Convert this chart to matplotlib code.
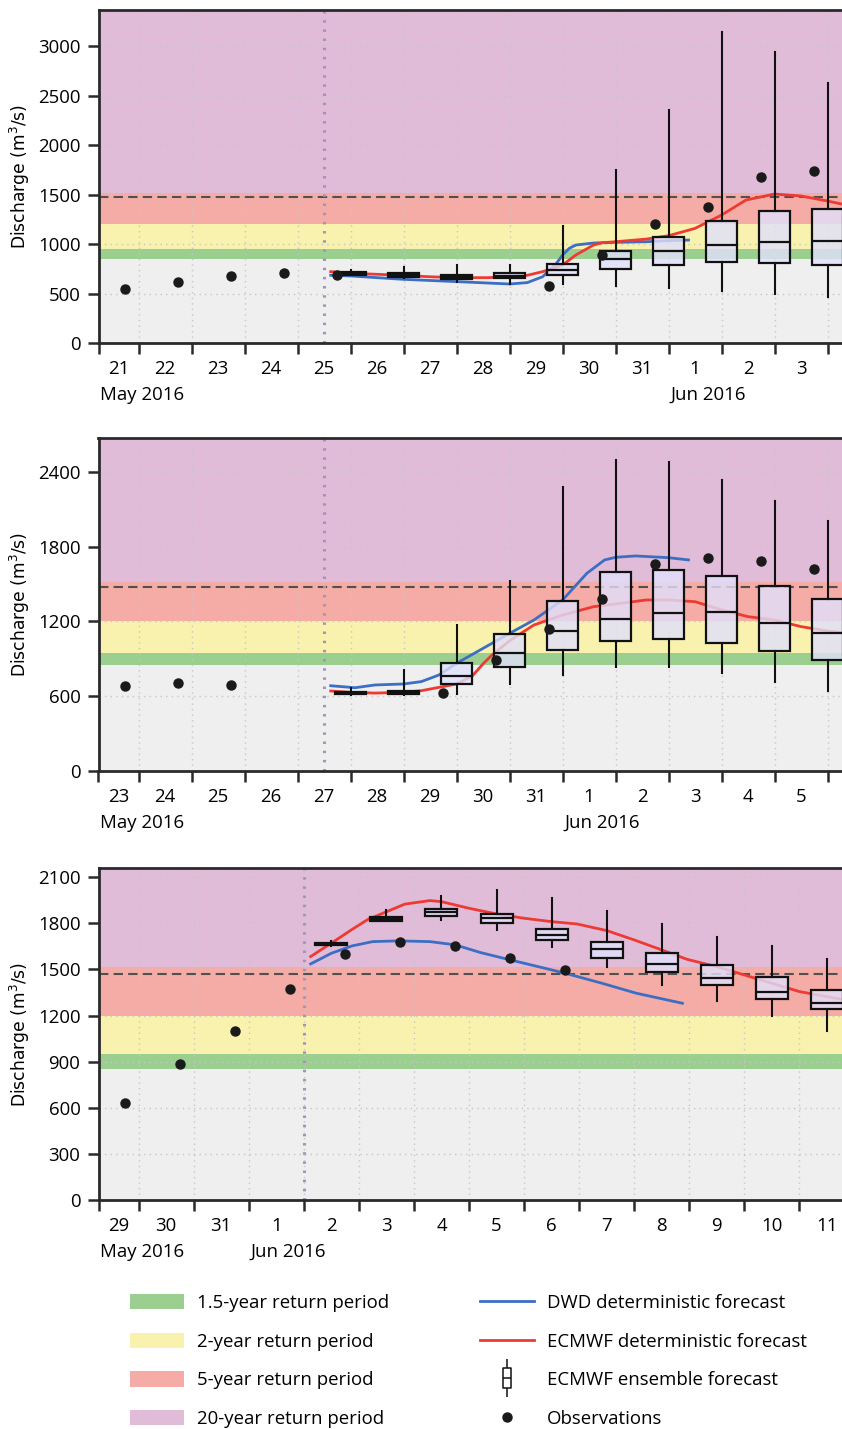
import numpy as np
import matplotlib
matplotlib.use('Agg')
import matplotlib.pyplot as plt
import matplotlib.dates as mdates
from matplotlib.patches import Patch
from matplotlib.lines import Line2D
from matplotlib.path import Path
from matplotlib.legend_handler import HandlerTuple
from matplotlib.ticker import FixedLocator, FixedFormatter

plt.rcParams['font.family'] = ['Open Sans', 'DejaVu Sans']

# Return period thresholds and alert level (m3/s)
rp_levels = [850, 950, 1200, 1515]
alert_level = 1472

# --- Forecast of 25 May 2016 12 UTC ---
p1_base = '2016-05-25T12:00'
p1_obs_days = ['2016-05-21', '2016-05-22', '2016-05-23', '2016-05-24', '2016-05-25',
               '2016-05-29', '2016-05-30', '2016-05-31', '2016-06-01', '2016-06-02', '2016-06-03']
p1_obs = [549, 620, 680, 707, 686, 579, 886, 1205, 1377, 1680, 1741]
p1_ecmwf_h = [3, 12, 36, 47, 60, 74, 84, 92, 99, 108, 114, 122, 126, 132, 146, 156, 168,
              180, 191, 204, 216, 228, 235, 240]
p1_ecmwf = [721, 704, 684, 670, 660, 660, 670, 684, 721, 788, 889, 990, 1013, 1023, 1050,
            1084, 1158, 1293, 1444, 1505, 1485, 1434, 1401, 1385]
p1_dwd_h = [3, 12, 36, 60, 74, 84, 92, 99, 102, 105, 108, 111, 114, 122, 132, 146, 156, 165]
p1_dwd = [684, 677, 643, 620, 606, 596, 610, 670, 737, 798, 889, 956, 990, 1010, 1017,
          1023, 1034, 1040]
p1_ens_h = [12, 36, 60, 84, 108, 132, 156, 180, 204, 228]
p1_ens_lo = [683, 660, 620, 596, 593, 576, 556, 522, 495, 468]
p1_ens_q1 = [690, 670, 650, 657, 684, 751, 791, 818, 805, 788]
p1_ens_med = [705, 687, 670, 677, 737, 845, 933, 986, 1020, 1027]
p1_ens_q3 = [717, 704, 690, 704, 798, 926, 1074, 1236, 1337, 1357]
p1_ens_hi = [737, 765, 788, 791, 1182, 1747, 2353, 3141, 2936, 2630]

# --- Forecast of 27 May 2016 12 UTC ---
p2_base = '2016-05-27T12:00'
p2_obs_days = ['2016-05-23', '2016-05-24', '2016-05-25', '2016-05-29', '2016-05-30',
               '2016-05-31', '2016-06-01', '2016-06-02', '2016-06-03', '2016-06-04', '2016-06-05']
p2_obs = [682, 703, 687, 626, 890, 1142, 1377, 1663, 1711, 1685, 1620]
p2_ecmwf_h = [3, 12, 23, 36, 44, 52, 60, 67, 72, 76, 84, 95, 108, 122, 132, 146, 156, 168,
              180, 192, 204, 216, 228, 235, 240]
p2_ecmwf = [642, 631, 625, 631, 644, 671, 698, 760, 860, 930, 1045, 1171, 1251, 1318, 1340,
            1372, 1372, 1358, 1292, 1238, 1211, 1158, 1123, 1110, 1100]
p2_dwd_h = [3, 14, 23, 36, 44, 52, 60, 72, 84, 95, 108, 119, 127, 132, 141, 156, 165]
p2_dwd = [684, 668, 690, 698, 717, 770, 864, 984, 1104, 1211, 1372, 1586, 1693, 1714, 1725,
          1711, 1693]
p2_ens_h = [12, 36, 60, 84, 108, 132, 156, 180, 204, 228]
p2_ens_lo = [611, 612, 618, 698, 770, 832, 832, 784, 717, 644]
p2_ens_q1 = [618, 618, 698, 837, 973, 1045, 1059, 1029, 965, 890]
p2_ens_med = [627, 630, 765, 949, 1123, 1222, 1270, 1275, 1187, 1110]
p2_ens_q3 = [636, 643, 869, 1099, 1366, 1599, 1610, 1564, 1487, 1382]
p2_ens_hi = [663, 810, 1171, 1524, 2281, 2495, 2481, 2334, 2168, 2008]

# --- Forecast of 2 June 2016 00 UTC ---
p3_base = '2016-06-02T00:00'
p3_obs_days = ['2016-05-29', '2016-05-30', '2016-05-31', '2016-06-01', '2016-06-02',
               '2016-06-03', '2016-06-04', '2016-06-05', '2016-06-06']
p3_obs = [629, 883, 1102, 1372, 1601, 1677, 1653, 1575, 1499]
p3_ecmwf_h = [3, 12, 21, 28, 36, 44, 55, 60, 72, 84, 96, 108, 119, 132, 144, 156, 167, 180,
              192, 204, 216, 228, 240]
p3_ecmwf = [1584, 1671, 1760, 1826, 1875, 1925, 1948, 1941, 1898, 1861, 1833, 1811, 1796,
            1753, 1692, 1627, 1566, 1518, 1464, 1410, 1356, 1323, 1290]
p3_dwd_h = [3, 12, 21, 30, 41, 55, 66, 77, 90, 105, 114, 130, 145, 165]
p3_dwd = [1536, 1605, 1653, 1681, 1686, 1681, 1660, 1610, 1562, 1508, 1475, 1410, 1345, 1280]
p3_ens_h = [12, 36, 60, 84, 108, 132, 156, 180, 204, 228]
p3_ens_lo = [1653, 1814, 1822, 1757, 1645, 1518, 1399, 1297, 1200, 1102]
p3_ens_q1 = [1658, 1818, 1848, 1805, 1690, 1577, 1482, 1397, 1308, 1243]
p3_ens_med = [1666, 1831, 1872, 1833, 1727, 1632, 1538, 1445, 1355, 1284]
p3_ens_q3 = [1675, 1844, 1894, 1861, 1764, 1681, 1605, 1527, 1449, 1367]
p3_ens_hi = [1684, 1887, 1978, 2017, 1963, 1883, 1796, 1714, 1653, 1568]

band_colors = ['#efefef', '#9acf8f', '#f8f2ae', '#f6aca6', '#e1bcd9']
col_dwd = '#3c6ec4'
col_ecmwf = '#ee3a32'

W, H = 842, 1429
fig = plt.figure(figsize=(W / 100, H / 100), dpi=100)


def hours_to_num(base, hours):
    t = np.datetime64(base) + np.array(hours) * np.timedelta64(1, 'h')
    return mdates.date2num(t)


def draw_panel(top_px, bottom_px, left_date, px_day, ymax, yticks, base,
               obs_days, obs, ec_h, ec, dwd_h, dwd, ens_h, lo, q1, med, q3, hi):
    left_px, right_px = 98.5, 900
    ax = fig.add_axes([left_px / W, 1 - bottom_px / H, (right_px - left_px) / W,
                       (bottom_px - top_px) / H])
    x0 = mdates.date2num(np.datetime64(left_date))
    x1 = x0 + (right_px - left_px) / px_day
    ax.set_xlim(x0, x1)
    ax.set_ylim(0, ymax)

    # return period bands
    edges = [0] + rp_levels + [ymax]
    for i, c in enumerate(band_colors):
        ax.axhspan(edges[i], edges[i + 1], color=c, lw=0, zorder=0)
    ax.axhline(alert_level, color='#505050', lw=1.5, ls=(0, (4.5, 2.5)), zorder=1.5)
    ax.axvline(mdates.date2num(np.datetime64(base)), color='#a393b8', lw=2.2,
               ls=(0, (0.8, 2.2)), zorder=1.5)

    ax.plot(hours_to_num(base, dwd_h), dwd, color=col_dwd, lw=2, zorder=2)
    ax.plot(hours_to_num(base, ec_h), ec, color=col_ecmwf, lw=2, zorder=2)

    stats = [dict(whislo=a, q1=b, med=c, q3=d, whishi=e, fliers=[])
             for a, b, c, d, e in zip(lo, q1, med, q3, hi)]
    bp = ax.bxp(stats, positions=hours_to_num(base, ens_h), widths=0.58,
                patch_artist=True, showcaps=False, showfliers=False, manage_ticks=False,
                boxprops=dict(facecolor=(0.88, 0.88, 0.99, 0.8), edgecolor='#111111', lw=1.6),
                medianprops=dict(color='#111111', lw=1.6),
                whiskerprops=dict(color='#111111', lw=1.5))
    for k in bp:
        for a in bp[k]:
            a.set_zorder(3)

    obs_t = mdates.date2num(np.array(obs_days, dtype='datetime64[m]') + np.timedelta64(18, 'h'))
    ax.plot(obs_t, obs, 'o', color='#1a1a1a', ms=6.5, zorder=4)

    # axes styling
    ax.set_axisbelow(True)
    ax.set_yticks(yticks)
    ax.grid(True, which='major', color='#c6c6c6', ls=(0, (1, 3)), lw=1)
    for s in ['left', 'bottom', 'top']:
        ax.spines[s].set_color('#2a2a2a')
        ax.spines[s].set_linewidth(2)
    ax.spines['right'].set_visible(False)

    first_day = np.floor(x0)
    midnights = np.arange(first_day + 1, x1, 1.0)
    ax.xaxis.set_major_locator(FixedLocator([x0] + list(midnights)))
    ax.xaxis.set_major_formatter(FixedFormatter([''] * (len(midnights) + 1)))
    # day numbers centred on the visible part of each day (only those inside the figure)
    centres, labels = [], []
    for d in np.arange(first_day, x1, 1.0):
        a, b = max(d, x0), min(d + 1, x1)
        c = (a + b) / 2
        if left_px + (c - x0) * px_day < W - 12:
            centres.append(c)
            labels.append(str(mdates.num2date(d).day))
    ax.xaxis.set_minor_locator(FixedLocator(centres))
    ax.xaxis.set_minor_formatter(FixedFormatter(labels))
    ax.tick_params(axis='x', which='major', length=8, width=1.8, color='#2a2a2a')
    ax.tick_params(axis='x', which='minor', length=0, pad=12.5, labelsize=13.4)
    ax.tick_params(axis='y', length=8, width=1.8, color='#2a2a2a', labelsize=13.4, pad=5)
    ax.grid(False, which='minor')

    # month labels under the first visible day of each month
    for d in [x0] + list(midnights):
        dt = mdates.num2date(d)
        if d == x0 or dt.day == 1:
            ax.annotate(dt.strftime('%b %Y'), xy=(d, 0), xycoords=('data', 'axes fraction'),
                        xytext=(1, -37.5), textcoords='offset points', ha='left', va='center',
                        fontsize=13.4)

    ax.set_ylabel('Discharge (m$^3$/s)', family='DejaVu Sans', fontsize=12.3, labelpad=4.5)
    return ax


draw_panel(10, 343, '2016-05-21T05:50', 53.0, 3364, range(0, 3001, 500), p1_base,
           p1_obs_days, p1_obs, p1_ecmwf_h, p1_ecmwf, p1_dwd_h, p1_dwd,
           p1_ens_h, p1_ens_lo, p1_ens_q1, p1_ens_med, p1_ens_q3, p1_ens_hi)
draw_panel(438, 771, '2016-05-23T05:50', 53.0, 2671, range(0, 2401, 600), p2_base,
           p2_obs_days, p2_obs, p2_ecmwf_h, p2_ecmwf, p2_dwd_h, p2_dwd,
           p2_ens_h, p2_ens_lo, p2_ens_q1, p2_ens_med, p2_ens_q3, p2_ens_hi)
draw_panel(868, 1200, '2016-05-29T06:32', 55.07, 2160, range(0, 2101, 300), p3_base,
           p3_obs_days, p3_obs, p3_ecmwf_h, p3_ecmwf, p3_dwd_h, p3_dwd,
           p3_ens_h, p3_ens_lo, p3_ens_q1, p3_ens_med, p3_ens_q3, p3_ens_hi)

# legend: return period bands on the left, forecasts on the right
band_handles = [Patch(facecolor=c, edgecolor='none') for c in band_colors[1:]]
band_labels = ['1.5-year return period', '2-year return period',
               '5-year return period', '20-year return period']

box_path = Path([(-0.22, -0.5), (0.22, -0.5), (0.22, 0.5), (-0.22, 0.5), (-0.22, -0.5)],
                [Path.MOVETO, Path.LINETO, Path.LINETO, Path.LINETO, Path.CLOSEPOLY])
ens_handle = (Line2D([], [], marker='|', ms=27, mew=1.1, color='#111111', ls='none'),
              Line2D([], [], marker=box_path, ms=14, mfc='white', mec='#111111', mew=1.1, ls='none'),
              Line2D([], [], marker='_', ms=6, mew=1.1, color='#111111', ls='none'))
fc_handles = [Line2D([], [], color=col_dwd, lw=2), Line2D([], [], color=col_ecmwf, lw=2),
              ens_handle, Line2D([], [], marker='o', color='#1a1a1a', ms=6.5, ls='none')]
fc_labels = ['DWD deterministic forecast', 'ECMWF deterministic forecast',
             'ECMWF ensemble forecast', 'Observations']

leg_kw = dict(loc='center left', frameon=False, borderpad=0, borderaxespad=0,
              fontsize=13.4, handlelength=2.9, handleheight=0.9, handletextpad=0.7,
              labelspacing=1.1, bbox_transform=fig.transFigure)
fig.legend(band_handles, band_labels, bbox_to_anchor=(130 / W, 1 - 1361 / H), **leg_kw)
fig.legend(fc_handles, fc_labels, bbox_to_anchor=(480 / W, 1 - 1361 / H),
           handler_map={tuple: HandlerTuple(ndivide=1)}, **leg_kw)

fig.savefig('out.png', dpi=100)
